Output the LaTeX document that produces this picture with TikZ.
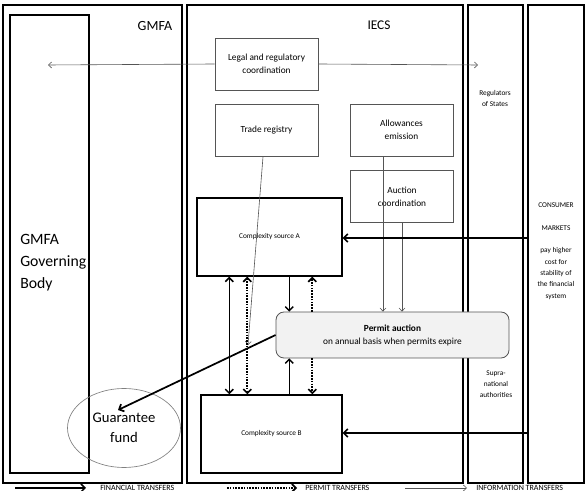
\documentclass[tikz,border=0pt]{standalone}
\usepackage{fontspec}
\setmainfont{Carlito}
\usetikzlibrary{arrows.meta,positioning,calc,shapes.geometric}
\definecolor{boxgray}{RGB}{85,85,85}
\definecolor{auctfill}{RGB}{242,242,242}
\tikzset{
  colframe/.style={draw=black, line width=1.3pt},
  unitbox/.style={draw=boxgray, line width=0.6pt, align=center, inner sep=1pt,
    minimum width=77.25pt, minimum height=39pt, font=\fontsize{7}{9.6}\selectfont},
  srcbox/.style={draw=black, line width=1.1pt, minimum width=108.75pt,
    minimum height=58.5pt, font=\fontsize{5.5}{7}\selectfont},
  finln/.style={>={Straight Barb[length=3pt,width=6pt]}, line width=1.1pt},
  permln/.style={>={Straight Barb[length=3pt,width=6pt]}, line width=1.2pt,
    dash pattern=on 1.2pt off 0.9pt},
  infoln/.style={>={Straight Barb[length=2.4pt,width=4.5pt]}, line width=0.45pt, boxgray},
  smalltxt/.style={font=\fontsize{5.5}{8.5}\selectfont, align=center, inner sep=0pt},
  legtxt/.style={font=\fontsize{6}{7}\selectfont, inner sep=0pt, anchor=west},
}

\begin{document}
\begin{tikzpicture}[x=0.75pt, y=-0.75pt]
  \useasboundingbox (0,0) rectangle (586,491);
  % the four columns
  \draw[colframe] (3,5) rectangle (182,483);
  \draw[colframe] (187,5) rectangle (463,483);
  \draw[colframe] (468,5) rectangle (523,483);
  \draw[colframe] (528,5) rectangle (584,483);
  \node[font=\fontsize{10.5}{12}\selectfont] (gmfa) at (155,26) {GMFA};
  \node[font=\fontsize{10}{12}\selectfont] (iecs) at (379,25) {IECS};
  % governing body and fund
  \node[draw, line width=1.3pt, minimum width=59.25pt, minimum height=343.5pt] (gov) at (49.5,244) {};
  \node[font=\fontsize{11.8}{16.5}\selectfont, align=left, anchor=west, inner sep=0pt] (govtxt) at (20,263)
    {GMFA\\Governing\\Body};
  \node[ellipse, draw=gray, line width=0.5pt, minimum width=84.75pt, minimum height=59.25pt,
    inner sep=0pt, align=center, font=\fontsize{11}{15}\selectfont] (fund) at (124,428) {Guarantee\\fund};
  % IECS units
  \node[unitbox] (legal) at (266.5,64) {Legal and regulatory\\coordination};
  \node[unitbox] (trade) at (266.5,130) {Trade registry};
  \node[unitbox] (allow) at (401.5,130) {Allowances\\emission};
  \node[unitbox] (aucco) at (402,196.5) {Auction\\coordination};
  \node[srcbox] (srcA) at (269.5,237) {Complexity source A};
  \node[srcbox, minimum width=105.75pt] (srcB) at (271.5,434) {Complexity source B};
  \node[draw=boxgray, fill=auctfill, rounded corners=6pt, line width=0.6pt, minimum width=174.75pt,
    minimum height=34.5pt, align=center, font=\fontsize{7}{9.75}\selectfont] (auct) at (392.5,335)
    {\textbf{Permit auction}\\on annual basis when permits expire};
  % side columns
  \node[smalltxt] (regst) at (495,98.5) {Regulators\\of States};
  \node[smalltxt] (supra) at (496,384) {Supra-\\national\\authorities};
  \node[smalltxt] (cons) at (556,216.5) {CONSUMER\\[9pt]MARKETS};
  \node[smalltxt] (pay) at (556,273.5) {pay higher\\cost for\\stability of\\the financial\\system};
  % information flows
  \coordinate (legL) at (48,65);
  \coordinate (legR) at (478,65);
  \coordinate (tradeEnd) at (248,345);
  \draw[infoln,->] (legal.west) -- (legL);
  \draw[infoln,->] (legal.east) -- (legR);
  \draw[infoln,->] ([xshift=-2.6pt]trade.south) -- (tradeEnd);
  \draw[infoln,->] ([xshift=-13.9pt]allow.south) -- ([xshift=-13.9pt]allow.south |- auct.north);
  \draw[infoln,->] (aucco.south) -- (aucco.south |- auct.north);
  % markets to sources
  \coordinate (mktA) at (528,238);
  \coordinate (mktB) at (528,433);
  \draw[finln,->] (mktA) -- (mktA -| srcA.east);
  \draw[finln,->] (mktB) -- (mktB -| srcB.east);
  % sources and auction
  \path (srcA.south west) ++(33,0) coordinate (ab1) ++(18,0) coordinate (ab2)
    ++(42,0) coordinate (ab3) ++(23,0) coordinate (ab4);
  \draw[finln,<->] (ab1) -- (ab1 |- srcB.north);
  \draw[permln,<->] (ab2) -- (ab2 |- srcB.north);
  \draw[finln,->] (ab3) -- (ab3 |- auct.north);
  \draw[finln,->] (ab3 |- srcB.north) -- (ab3 |- auct.south);
  \draw[permln,->] (ab4 |- auct.north) -- (ab4);
  \draw[permln,->] (ab4 |- auct.south) -- (ab4 |- srcB.north);
  \draw[finln,->,line width=1.3pt] (auct.west) -- ($(fund.center)+(-6,-18)$);
  % legend
  \coordinate (lg1) at (15,488); \coordinate (lg2) at (86,488);
  \coordinate (lg3) at (227,488); \coordinate (lg4) at (297,488);
  \coordinate (lg5) at (405,488); \coordinate (lg6) at (467,488);
  \draw[finln,->] (lg1) -- (lg2);
  \draw[permln,->] (lg3) -- (lg4);
  \draw[infoln,->] (lg5) -- (lg6);
  \node[legtxt] (lgfin) at (100,488) {FINANCIAL TRANSFERS};
  \node[legtxt] (lgperm) at (305,488) {PERMIT TRANSFERS};
  \node[legtxt] (lginfo) at (476,488) {INFORMATION TRANSFERS};
\end{tikzpicture}
\end{document}
